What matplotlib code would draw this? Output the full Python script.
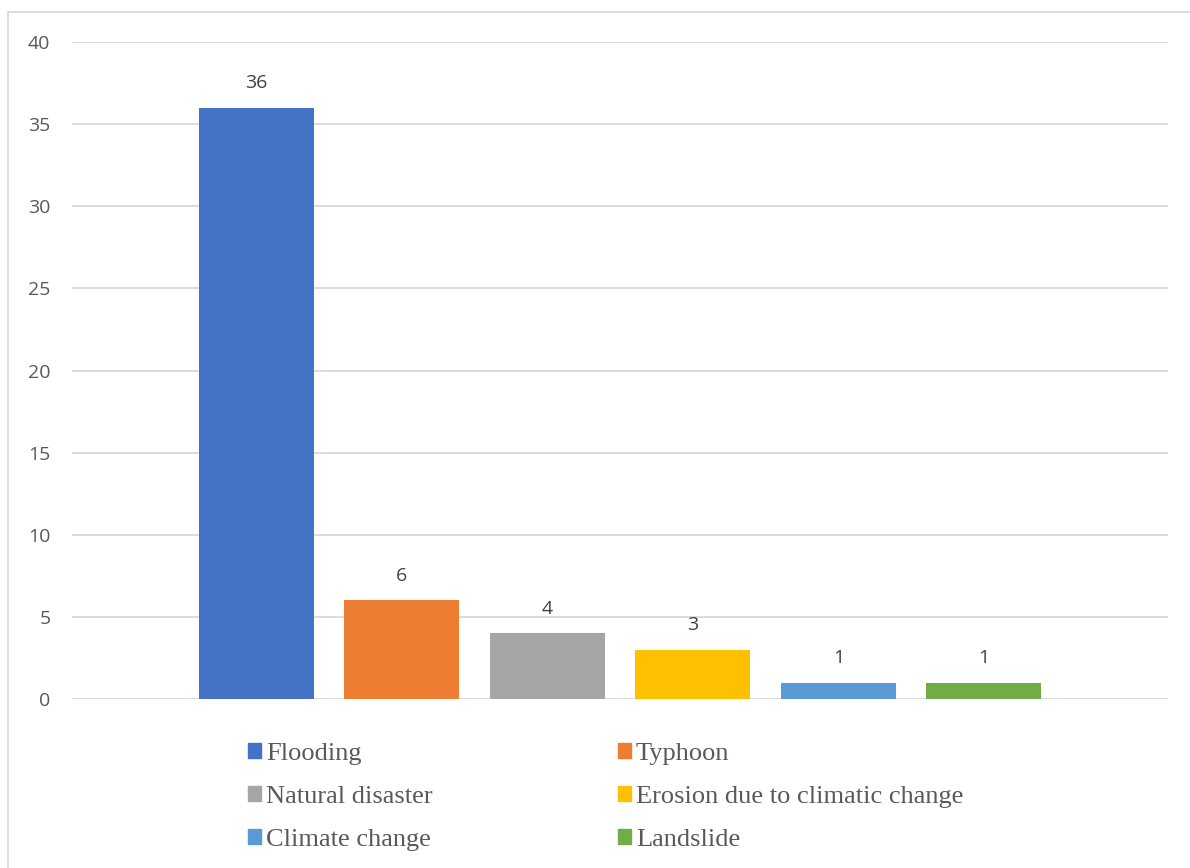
import matplotlib.pyplot as plt
from matplotlib.patches import Rectangle, Patch

categories = ['Flooding', 'Typhoon', 'Natural disaster', 'Erosion due to climatic change',
              'Climate change', 'Landslide']
counts = [36, 6, 4, 3, 1, 1]
colors = ['#4472C4', '#ED7D31', '#A5A5A5', '#FFC000', '#5B9BD5', '#70AD47']
yticks = [0, 5, 10, 15, 20, 25, 30, 35, 40]

W, H = 1190, 868
fig = plt.figure(figsize=(W / 100, H / 100), dpi=100)

# chart border like excel
fig.patches.append(Rectangle((8 / W, -0.01), 1.2, (H - 12) / H + 0.01, transform=fig.transFigure,
                             fill=False, edgecolor='#d9d9d9', lw=1.3))

ax = fig.add_axes([72 / W, 169 / H, 1096 / W, 657 / H])
x = list(range(len(categories)))
bars = ax.bar(x, counts, width=0.79, color=colors, zorder=3)
for b, v in zip(bars, counts):
    ax.text(b.get_x() + b.get_width() / 2, v + 0.95, str(v), ha='center', va='bottom',
            fontsize=14, color='#404040', family='Open Sans')

ax.set_xlim(-1.264, 6.264)
ax.set_ylim(0, 40)
ax.set_yticks(yticks)
ax.set_xticks([])
ax.grid(axis='y', color='#d9d9d9', lw=1.3, zorder=0)
for s in ax.spines.values():
    s.set_visible(False)
ax.tick_params(axis='y', length=0, pad=15.5, labelsize=14, labelcolor='#595959')
for lab in ax.get_yticklabels():
    lab.set_family('Open Sans')

# legend, row-major order in 2 columns
handles = [Patch(color=c, label=n) for c, n in zip(colors, categories)]
order = [0, 2, 4, 1, 3, 5]
leg = fig.legend([handles[i] for i in order], [categories[i] for i in order],
                 ncol=2, loc='upper left', bbox_to_anchor=(224 / W, 1 - 719 / H),
                 frameon=False, prop={'family': 'Liberation Serif', 'size': 19},
                 handlelength=0.5, handleheight=0.5, handletextpad=0.2,
                 columnspacing=7.0, labelspacing=0.8)
for t in leg.get_texts():
    t.set_color('#595959')

fig.savefig('out.png', dpi=100)
